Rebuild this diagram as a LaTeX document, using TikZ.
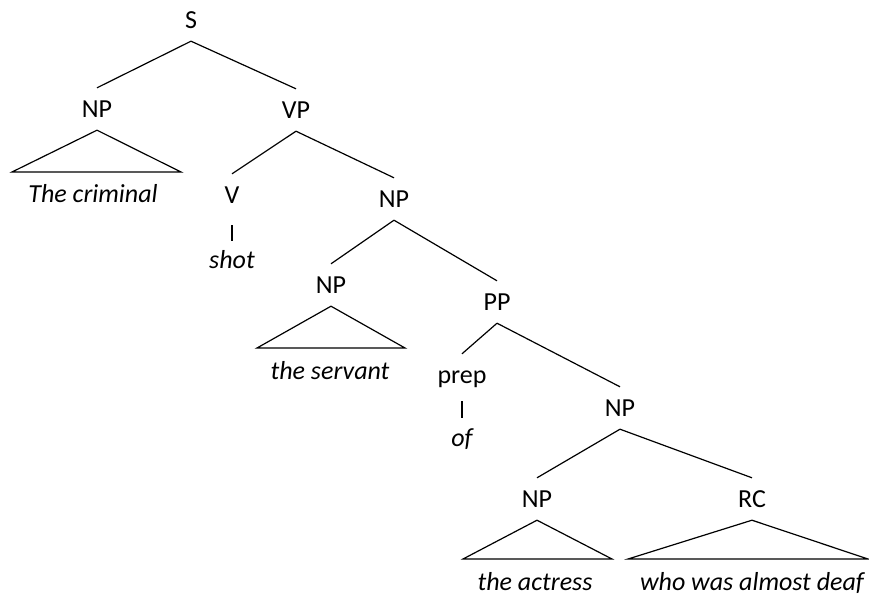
\documentclass[tikz,border=0pt]{standalone}
\usepackage{fontspec}
\setmainfont{Carlito}
\begin{document}
\begin{tikzpicture}[x=1pt,y=-1pt,
  cat/.style={anchor=base,inner sep=0pt,text height=29pt,text depth=13pt,font=\fontsize{26}{30}\selectfont},
  word/.style={anchor=base,inner sep=0pt,text height=24pt,text depth=6pt,font=\fontsize{26}{30}\selectfont\itshape},
  edge/.style={draw=black,line width=1.2pt},
  tri/.style={draw=black,line width=1.2pt,line join=miter}]
\useasboundingbox (0,0) rectangle (869,597);
% categories
\node[cat] (S) at (191,28) {S};
\node[cat] (NPa) at (97,117) {NP};
\node[cat] (VP) at (296,118) {VP};
\node[cat] (V) at (232,203) {V};
\node[cat] (NPb) at (394,207) {NP};
\node[cat] (NPc) at (331,293) {NP};
\node[cat] (PP) at (497,310) {PP};
\node[cat] (prep) at (462,383) {prep};
\node[cat] (NPd) at (620,416) {NP};
\node[cat] (NPe) at (537,507) {NP};
\node[cat] (RC) at (752,507) {RC};
% words
\node[word] (w1) at (93,202) {The criminal};
\node[word] (w2) at (232,268) {shot};
\node[word] (w3) at (330,379) {the servant};
\node[word] (w4) at (462,446) {of};
\node[word] (w5) at (535,590) {the actress};
\node[word] (w6) at (752,590) {who was almost deaf};
% edges
\draw[edge] (S.south) -- (NPa.north);
\draw[edge] (S.south) -- (VP.north);
\draw[edge] (VP.south) -- (V.north);
\draw[edge] (VP.south) -- (NPb.north);
\draw[edge] (NPb.south) -- (NPc.north);
\draw[edge] (NPb.south) -- (PP.north);
\draw[edge] (PP.south) -- (prep.north);
\draw[edge] (PP.south) -- (NPd.north);
\draw[edge] (NPd.south) -- (NPe.north);
\draw[edge] (NPd.south) -- (RC.north);
\draw[edge,shorten <=9pt,shorten >=3pt] (V.south) -- (w2.north);
\draw[edge,shorten <=5pt,shorten >=4pt] (prep.south) -- (w4.north);
% triangles
\draw[tri] (NPa.south) -- (12,172) -- (181,172) -- cycle;
\draw[tri] (NPc.south) -- (257,348) -- (405,348) -- cycle;
\draw[tri] (NPe.south) -- (463,559) -- (612,559) -- cycle;
\draw[tri] (RC.south) -- (628,559) -- (868,559) -- cycle;
\end{tikzpicture}
\end{document}
